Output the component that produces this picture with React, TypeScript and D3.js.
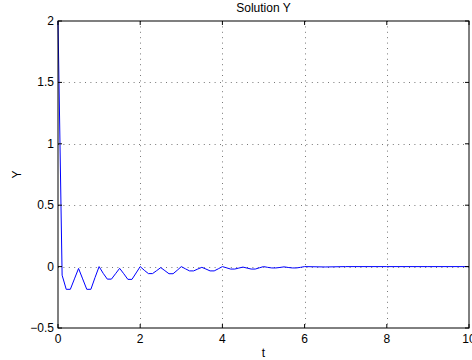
import React from "react";
import * as d3 from "d3";

const tValues: number[] = [
  0, 0.1, 0.2, 0.3, 0.4, 0.5, 0.6, 0.7, 0.8, 0.9,
  1.0, 1.1, 1.2, 1.3, 1.4, 1.5, 1.6, 1.7, 1.8, 1.9,
  2.0, 2.1, 2.2, 2.3, 2.4, 2.5, 2.6, 2.7, 2.8, 2.9,
  3.0, 3.1, 3.2, 3.3, 3.4, 3.5, 3.6, 3.7, 3.8, 3.9,
  4.0, 4.1, 4.2, 4.3, 4.4, 4.5, 4.6, 4.7, 4.8, 4.9,
  5.0, 5.1, 5.2, 5.3, 5.4, 5.5, 5.6, 5.7, 5.8, 5.9,
  6.0, 6.5, 7, 8, 9, 10,
];

const yValues: number[] = [
  2.0, -0.07, -0.185, -0.185, -0.10, -0.015, -0.10, -0.185, -0.185, -0.09,
  0.0, -0.055, -0.102, -0.102, -0.058, -0.014, -0.058, -0.104, -0.104, -0.052,
  0.0, -0.03, -0.057, -0.057, -0.033, -0.008, -0.033, -0.058, -0.058, -0.03,
  0.0, -0.018, -0.035, -0.035, -0.02, -0.006, -0.02, -0.035, -0.035, -0.018,
  0.0, -0.01, -0.02, -0.02, -0.012, -0.004, -0.012, -0.02, -0.02, -0.01,
  0.0, -0.006, -0.011, -0.011, -0.007, -0.002, -0.007, -0.011, -0.011, -0.006,
  0.0, -0.003, 0.0, 0.0, 0.0, 0.0,
];

const xTicks: number[] = [0, 2, 4, 6, 8, 10];
const yTicks: number[] = [-0.5, 0, 0.5, 1, 1.5, 2];
const yTickLabels: string[] = ["\u22120.5", "0", "0.5", "1", "1.5", "2"];

const titleText = "Solution Y";
const xLabel = "t";
const yLabel = "Y";

export default function App() {
  const W = 472;
  const H = 360;
  const left = 58;
  const right = 469;
  const top = 21;
  const bottom = 328;

  const x = d3.scaleLinear().domain([0, 10]).range([left, right]);
  const y = d3.scaleLinear().domain([-0.5, 2]).range([bottom, top]);

  const pts: [number, number][] = tValues.map((t, i) => [t, yValues[i]]);
  const line = d3
    .line<[number, number]>()
    .x((d) => x(d[0]))
    .y((d) => y(d[1]));

  const font = "'Liberation Sans', Arial, Helvetica, sans-serif";
  const tickLen = 4;

  return (
    <svg
      width={W}
      height={H}
      style={{ position: "absolute", left: 0, top: 0, background: "#fff" }}
      fontFamily={font}
    >
      <rect x={0} y={0} width={W} height={H} fill="#fff" />
      {/* grid */}
      {xTicks.slice(1, -1).map((t) => (
        <line
          key={"gx" + t}
          x1={Math.round(x(t)) + 0.5}
          x2={Math.round(x(t)) + 0.5}
          y1={top}
          y2={bottom}
          stroke="#777"
          strokeWidth={1}
          strokeDasharray="1 4.4"
        />
      ))}
      {yTicks.slice(1, -1).map((v) => (
        <line
          key={"gy" + v}
          x1={left}
          x2={right}
          y1={Math.round(y(v)) + 0.5}
          y2={Math.round(y(v)) + 0.5}
          stroke="#777"
          strokeWidth={1}
          strokeDasharray="1 4.4"
        />
      ))}
      {/* data line */}
      <path d={line(pts) || ""} fill="none" stroke="#0000ff" strokeWidth={1} />
      {/* box */}
      <rect
        x={left}
        y={top}
        width={right - left}
        height={bottom - top}
        fill="none"
        stroke="#000"
        strokeWidth={1}
      />
      {/* ticks */}
      {xTicks.map((t) => (
        <g key={"tx" + t}>
          <line x1={x(t)} x2={x(t)} y1={bottom} y2={bottom - tickLen} stroke="#000" />
          <line x1={x(t)} x2={x(t)} y1={top} y2={top + tickLen} stroke="#000" />
          <text
            x={x(t)}
            y={bottom + 15}
            fontSize={12}
            textAnchor="middle"
            fill="#000"
          >
            {t}
          </text>
        </g>
      ))}
      {yTicks.map((v, i) => (
        <g key={"ty" + v}>
          <line x1={left} x2={left + tickLen} y1={y(v)} y2={y(v)} stroke="#000" />
          <line x1={right} x2={right - tickLen} y1={y(v)} y2={y(v)} stroke="#000" />
          <text
            x={left - 4}
            y={y(v) + 4}
            fontSize={12}
            textAnchor="end"
            fill="#000"
          >
            {yTickLabels[i]}
          </text>
        </g>
      ))}
      {/* labels */}
      <text x={(left + right) / 2} y={12} fontSize={12} textAnchor="middle" fill="#000">
        {titleText}
      </text>
      <text x={(left + right) / 2} y={357} fontSize={12} textAnchor="middle" fill="#000">
        {xLabel}
      </text>
      <text
        transform={`translate(21, ${(top + bottom) / 2}) rotate(-90)`}
        fontSize={12}
        textAnchor="middle"
        fill="#000"
      >
        {yLabel}
      </text>
    </svg>
  );
}
